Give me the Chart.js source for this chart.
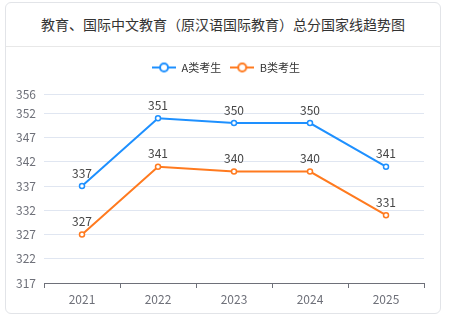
<!DOCTYPE html>
<html>
<head>
<meta charset="utf-8">
<script src="https://cdn.jsdelivr.net/npm/chart.js@4"></script>
<style>
  html, body { margin: 0; padding: 0; background: #fff; }
  body { width: 454px; height: 326px; position: relative; overflow: hidden;
         font-family: 'Noto Sans CJK SC', 'Noto Sans', sans-serif; }
  .card { position: absolute; left: 5px; top: 2px; width: 434px; height: 310px;
          border: 1px solid #e2e4e8; border-radius: 6px; background: #fff; }
  .card h3 { margin: 0; height: 43px; line-height: 43px; text-align: center;
             font-size: 14px; font-weight: normal; color: #333;
             border-bottom: 1px solid #e8e8e8; }
  #wrap { position: absolute; left: 0; top: 0; width: 454px; height: 326px; }
</style>
</head>
<body>
<div class="card"><h3>教育、国际中文教育（原汉语国际教育）总分国家线趋势图</h3></div>
<div id="wrap"><canvas id="chart" width="454" height="326"></canvas></div>
<script>
// Données du graphique
const years = ['2021', '2022', '2023', '2024', '2025'];
const scoresA = [337, 351, 350, 350, 341];
const scoresB = [327, 341, 340, 340, 331];
const yTicks = [317, 322, 327, 332, 337, 342, 347, 352, 356];

const blue = '#1e90ff';
const orange = '#ff7a1f';

Chart.defaults.font.family = "'Noto Sans CJK SC', 'Noto Sans', sans-serif";

// Icône de légende : trait + cercle creux
function legendIcon(color) {
    const c = document.createElement('canvas');
    c.width = 24; c.height = 12;
    const g = c.getContext('2d');
    g.strokeStyle = color;
    g.lineWidth = 2;
    g.beginPath(); g.moveTo(0, 6); g.lineTo(24, 6); g.stroke();
    g.beginPath(); g.arc(12, 6, 4, 0, Math.PI * 2);
    g.fillStyle = '#fff'; g.fill(); g.stroke();
    return c;
}
const icons = [legendIcon(blue), legendIcon(orange)];

// Étiquettes de valeur au-dessus des points
const valueLabels = {
    id: 'valueLabels',
    afterDatasetsDraw(chart) {
        const ctx = chart.ctx;
        ctx.save();
        ctx.font = "12px 'Noto Sans CJK SC', sans-serif";
        ctx.fillStyle = '#464646';
        ctx.textAlign = 'center';
        ctx.textBaseline = 'bottom';
        chart.data.datasets.forEach((ds, i) => {
            chart.getDatasetMeta(i).data.forEach((pt, j) => {
                ctx.fillText(ds.data[j], pt.x, pt.y - 7);
            });
        });
        ctx.restore();
    }
};

// Hauteur fixe de la légende, centrée sur la carte
const legendBox = {
    id: 'legendBox',
    beforeInit(chart) {
        const fit = chart.legend.fit;
        chart.legend.fit = function () {
            fit.call(this);
            this.height = 41;
        };
    },
    afterLayout(chart) {
        chart.legend.left = 28;
    }
};

new Chart(document.getElementById('chart'), {
    type: 'line',
    data: {
        labels: years,
        datasets: [{
            label: 'A类考生',
            data: scoresA,
            borderColor: blue,
            backgroundColor: '#fff',
            pointBorderColor: blue,
            borderWidth: 2,
            pointRadius: 2.5,
            pointBorderWidth: 1.5,
            tension: 0
        }, {
            label: 'B类考生',
            data: scoresB,
            borderColor: orange,
            backgroundColor: '#fff',
            pointBorderColor: orange,
            borderWidth: 2,
            pointRadius: 2.5,
            pointBorderWidth: 1.5,
            tension: 0
        }]
    },
    options: {
        responsive: false,
        animation: false,
        layout: { padding: { top: 53, right: 30, left: 0, bottom: 0 } },
        plugins: {
            legend: {
                labels: {
                    usePointStyle: true,
                    pointStyleWidth: 24,
                    boxHeight: 12,
                    padding: 9,
                    color: '#333',
                    font: { size: 11 },
                    generateLabels(chart) {
                        return chart.data.datasets.map((ds, i) => ({
                            text: ds.label,
                            pointStyle: icons[i],
                            fontColor: '#333',
                            lineWidth: 0,
                            hidden: false,
                            datasetIndex: i
                        }));
                    }
                }
            },
            tooltip: { enabled: false }
        },
        scales: {
            x: {
                offset: true,
                grid: { offset: true, drawOnChartArea: false, tickLength: 5, color: '#6e7079' },
                border: { color: '#6e7079' },
                ticks: { color: '#6e7079', font: { size: 12 }, padding: 4 },
                afterFit(scale) { scale.height = 43; }
            },
            y: {
                min: 317,
                max: 356,
                grid: { color: '#e0e6f1', drawTicks: false },
                border: { display: false },
                ticks: { color: '#6e7079', font: { size: 12 }, padding: 8 },
                afterBuildTicks(scale) { scale.ticks = yTicks.map(v => ({ value: v })); },
                afterFit(scale) { scale.width = 44; }
            }
        }
    },
    plugins: [valueLabels, legendBox]
});
</script>
</body>
</html>
